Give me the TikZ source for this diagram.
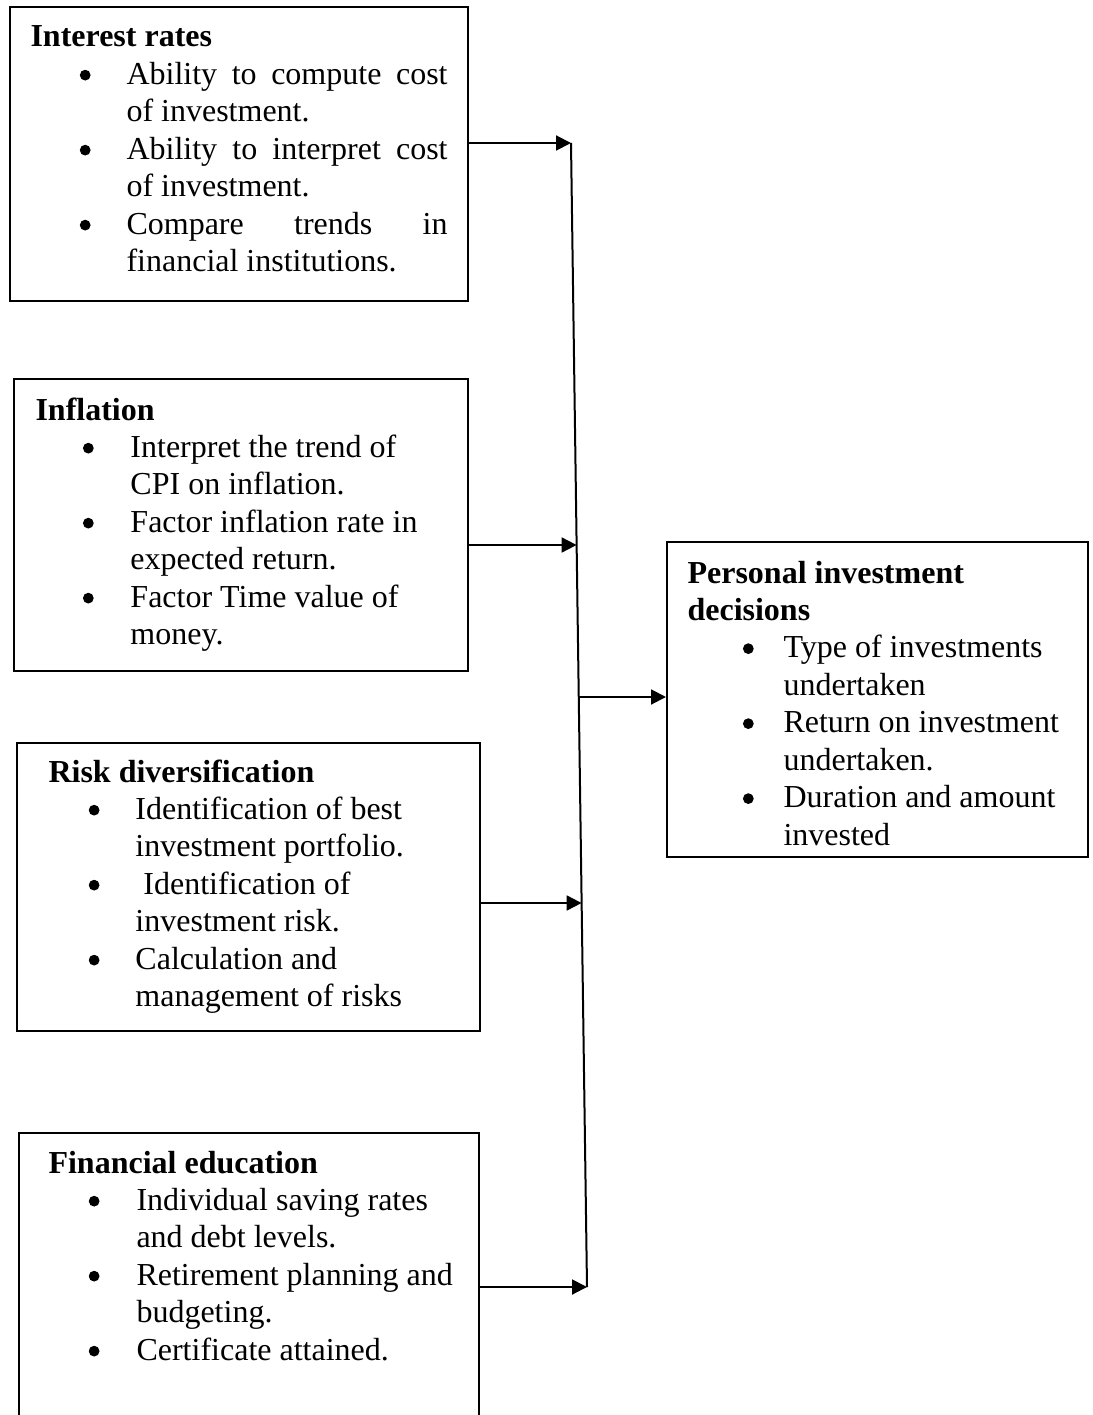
\documentclass[tikz,border=0pt]{standalone}
\usepackage{fontspec}
\setmainfont{Liberation Serif}
\usetikzlibrary{arrows.meta,fit}
\newcommand{\bul}[1]{\hspace*{#1}\tikz[baseline=-3.5pt,x=1pt,y=1pt]\filldraw[black,line width=0.4pt] (0,0) circle[radius=1.8pt];}
\newcommand{\just}[1]{\makebox[120.4pt][s]{#1}}
\begin{document}
\begin{tikzpicture}[x=0.375pt,y=-0.375pt,
  font=\fontsize{12}{14.06}\selectfont,
  box/.style={draw,line width=0.75pt,inner sep=0pt},
  txt/.style={anchor=base west,inner sep=0pt},
  link/.style={line width=0.75pt},
  arr/.style={line width=0.75pt,-{Triangle[length=5.6pt,width=5.6pt]}}]
\useasboundingbox (0,0) rectangle (1093,1415);
% boxes
\node[box,fit={(10,7) (468,301)}] (b1) {};
\node[box,fit={(14,379) (468,671)}] (b2) {};
\node[box,fit={(17,743) (480,1031)}] (b3) {};
\node[box,fit={(19,1133) (479,1440)}] (b4) {};
\node[box,fit={(667,542) (1088,857)}] (b5) {};
% texts
\node[txt] (t1) at (30,47) {\begin{tabular}[t]{@{}p{36pt}@{}l@{}}
\multicolumn{2}{@{}l@{}}{\bfseries Interest rates}\\
\bul{18.5pt} & \just{Ability to compute cost}\\
 & of investment.\\
\bul{18.5pt} & \just{Ability to interpret cost}\\
 & of investment.\\
\bul{18.5pt} & \just{Compare trends in}\\
 & financial institutions.\\
\end{tabular}};
\node[txt] (t2) at (35,420) {\begin{tabular}[t]{@{}p{35.6pt}@{}l@{}}
\multicolumn{2}{@{}l@{}}{\bfseries Inflation}\\
\bul{17.8pt} & Interpret the trend of\\
 & CPI on inflation.\\
\bul{17.8pt} & Factor inflation rate in\\
 & expected return.\\
\bul{17.8pt} & Factor Time value of\\
 & money.\\
\end{tabular}};
\node[txt] (t3) at (48,782) {\begin{tabular}[t]{@{}p{32.6pt}@{}l@{}}
\multicolumn{2}{@{}l@{}}{\bfseries Risk diversification}\\
\bul{15.1pt} & Identification of best\\
 & investment portfolio.\\
\bul{15.1pt} & \ Identification of\\
 & investment risk.\\
\bul{15.1pt} & Calculation and\\
 & management of risks\\
\end{tabular}};
\node[txt] (t4) at (48,1173) {\begin{tabular}[t]{@{}p{33pt}@{}l@{}}
\multicolumn{2}{@{}l@{}}{\bfseries Financial education}\\
\bul{15.1pt} & Individual saving rates\\
 & and debt levels.\\
\bul{15.1pt} & Retirement planning and\\
 & budgeting.\\
\bul{15.1pt} & Certificate attained.\\
\end{tabular}};
\node[txt] (t5) at (687,583) {\begin{tabular}[t]{@{}p{36pt}@{}l@{}}
\multicolumn{2}{@{}l@{}}{\bfseries Personal investment}\\
\multicolumn{2}{@{}l@{}}{\bfseries decisions}\\
\bul{20.8pt} & Type of investments\\
 & undertaken\\
\bul{20.8pt} & Return on investment\\
 & undertaken.\\
\bul{20.8pt} & Duration and amount\\
 & invested\\
\end{tabular}};
% joints on the vertical line
\coordinate (j1) at (571,143);
\coordinate (j2) at (576.6,545);
\coordinate (jm) at (578.7,697);
\coordinate (j3) at (581.6,903);
\coordinate (j4) at (587,1287);
\draw[link] (j1) -- (j4);
\draw[arr] (b1.east |- j1) -- (j1);
\draw[arr] (b2.east |- j2) -- (j2);
\draw[arr] (b3.east |- j3) -- (j3);
\draw[arr] (b4.east |- j4) -- (j4);
\draw[arr] (jm) -- (jm -| b5.west);
\end{tikzpicture}
\end{document}
